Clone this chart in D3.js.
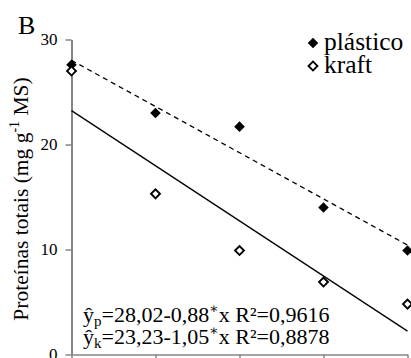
<!DOCTYPE html>
<html>
<head>
<meta charset="utf-8">
<script src="https://cdn.jsdelivr.net/npm/d3@7"></script>
<style>
  html, body { margin: 0; padding: 0; background: #fff; }
  svg { display: block; overflow: hidden; }
  text, tspan { font-family: "Liberation Serif", "Times New Roman", serif; fill: #000; }
  tspan.mark { font-family: "Liberation Serif", "DejaVu Serif", serif; }
</style>
</head>
<body>
<svg id="chart" width="411" height="358" font-family="Liberation Serif, serif"></svg>
<script>
// Days of storage and total protein content per packaging type
const days = [0, 5, 10, 15, 20];
const plastico = [27.6, 23.0, 21.7, 14.0, 9.9];
const kraft = [27.0, 15.3, 9.9, 6.9, 4.8];
const yTicks = [0, 10, 20, 30];
const xTicks = [0, 5, 10, 15, 20];

// Fitted linear models: intercept and slope
const fitP = { a: 28.02, b: -0.88 };
const fitK = { a: 23.23, b: -1.05 };

const svg = d3.select("#chart");
const W = 411, H = 358;
const m = { left: 71.5, right: 3.5, top: 39.5, bottom: 3.5 };

const x = d3.scaleLinear().domain([0, 20]).range([m.left, W - m.right]);
const y = d3.scaleLinear().domain([0, 30]).range([H - m.bottom, m.top]);

const axisColor = "#868686";

// y axis
const gy = svg.append("g").attr("transform", `translate(${m.left},0)`)
  .call(d3.axisLeft(y).tickValues(yTicks).tickSize(6).tickPadding(8).tickSizeOuter(0));
gy.attr("font-family", null);
gy.select(".domain").attr("stroke", axisColor).attr("stroke-width", 2);
gy.selectAll(".tick line").attr("stroke", axisColor).attr("stroke-width", 1.5);
gy.selectAll(".tick text").attr("font-size", 17).attr("fill", "#000");

// x axis
const gx = svg.append("g").attr("transform", `translate(0,${y(0)})`)
  .call(d3.axisBottom(x).tickValues(xTicks).tickSize(6).tickSizeOuter(0).tickFormat(""));
gx.select(".domain").attr("stroke", axisColor).attr("stroke-width", 1.5);
gx.selectAll(".tick line").attr("stroke", axisColor).attr("stroke-width", 1.5);

// regression lines
const line = d3.line().x(d => x(d[0])).y(d => y(d[1]));
const fitPts = f => [0, 20].map(d => [d, f.a + f.b * d]);
svg.append("path").datum(fitPts(fitP)).attr("d", line)
  .attr("fill", "none").attr("stroke", "#000").attr("stroke-width", 1.3)
  .attr("stroke-dasharray", "5,4");
svg.append("path").datum(fitPts(fitK)).attr("d", line)
  .attr("fill", "none").attr("stroke", "#000").attr("stroke-width", 1.3);

// markers: squares turned 45° into diamonds
const dFilled = d3.symbol().type(d3.symbolSquare).size(56)();
const dOpen = d3.symbol().type(d3.symbolSquare).size(40)();

svg.append("g").selectAll("path").data(days.map((d, i) => [d, plastico[i]])).join("path")
  .attr("d", dFilled)
  .attr("transform", d => `translate(${x(d[0])},${y(d[1])}) rotate(45)`)
  .attr("fill", "#000");

svg.append("g").selectAll("path").data(days.map((d, i) => [d, kraft[i]])).join("path")
  .attr("d", dOpen)
  .attr("transform", d => `translate(${x(d[0])},${y(d[1])}) rotate(45)`)
  .attr("fill", "#fff").attr("stroke", "#000").attr("stroke-width", 1.9);

// panel letter
svg.append("text").attr("x", 18).attr("y", 34).attr("font-size", 26).text("B");

// y axis title
const yt = svg.append("text")
  .attr("transform", `translate(28,199) rotate(-90)`)
  .attr("text-anchor", "middle").attr("font-size", 21.5);
yt.append("tspan").text("Proteínas totais (mg g");
yt.append("tspan").attr("font-size", 14).attr("dy", -9).text("-1");
yt.append("tspan").attr("dy", 9).text(" MS)");

// legend
const legend = [
  { name: "plástico", filled: true },
  { name: "kraft", filled: false }
];
const lg = svg.append("g");
legend.forEach((d, i) => {
  const cy = 43 + i * 23;
  lg.append("path").attr("d", d.filled ? dFilled : dOpen)
    .attr("transform", `translate(313,${cy}) rotate(45)`)
    .attr("fill", d.filled ? "#000" : "#fff")
    .attr("stroke", d.filled ? "none" : "#000").attr("stroke-width", 1.9);
  lg.append("text").attr("x", 324).attr("y", cy + 7).attr("font-size", 25.5).text(d.name);
});

// equations: ŷ with subscript, significance mark as superscript
const eqs = [
  { sub: "p", fit: fitP, r2: "0,9616" },
  { sub: "k", fit: fitK, r2: "0,8878" }
];
const fmt = v => d3.format(".2f")(v).replace(".", ",");
eqs.forEach((e, i) => {
  const t = svg.append("text").attr("x", 83).attr("y", 322 + i * 22).attr("font-size", 22);
  t.append("tspan").text("ŷ");
  t.append("tspan").attr("font-size", 15).attr("dy", 4).text(e.sub);
  t.append("tspan").attr("dy", -4).text(`=${fmt(e.fit.a)}-${fmt(-e.fit.b)}`);
  t.append("tspan").attr("class", "mark").attr("font-size", 14).attr("dy", -9).text("\u2217");
  t.append("tspan").attr("dy", 9).text(`x R²=${e.r2}`);
});
</script>
</body>
</html>
